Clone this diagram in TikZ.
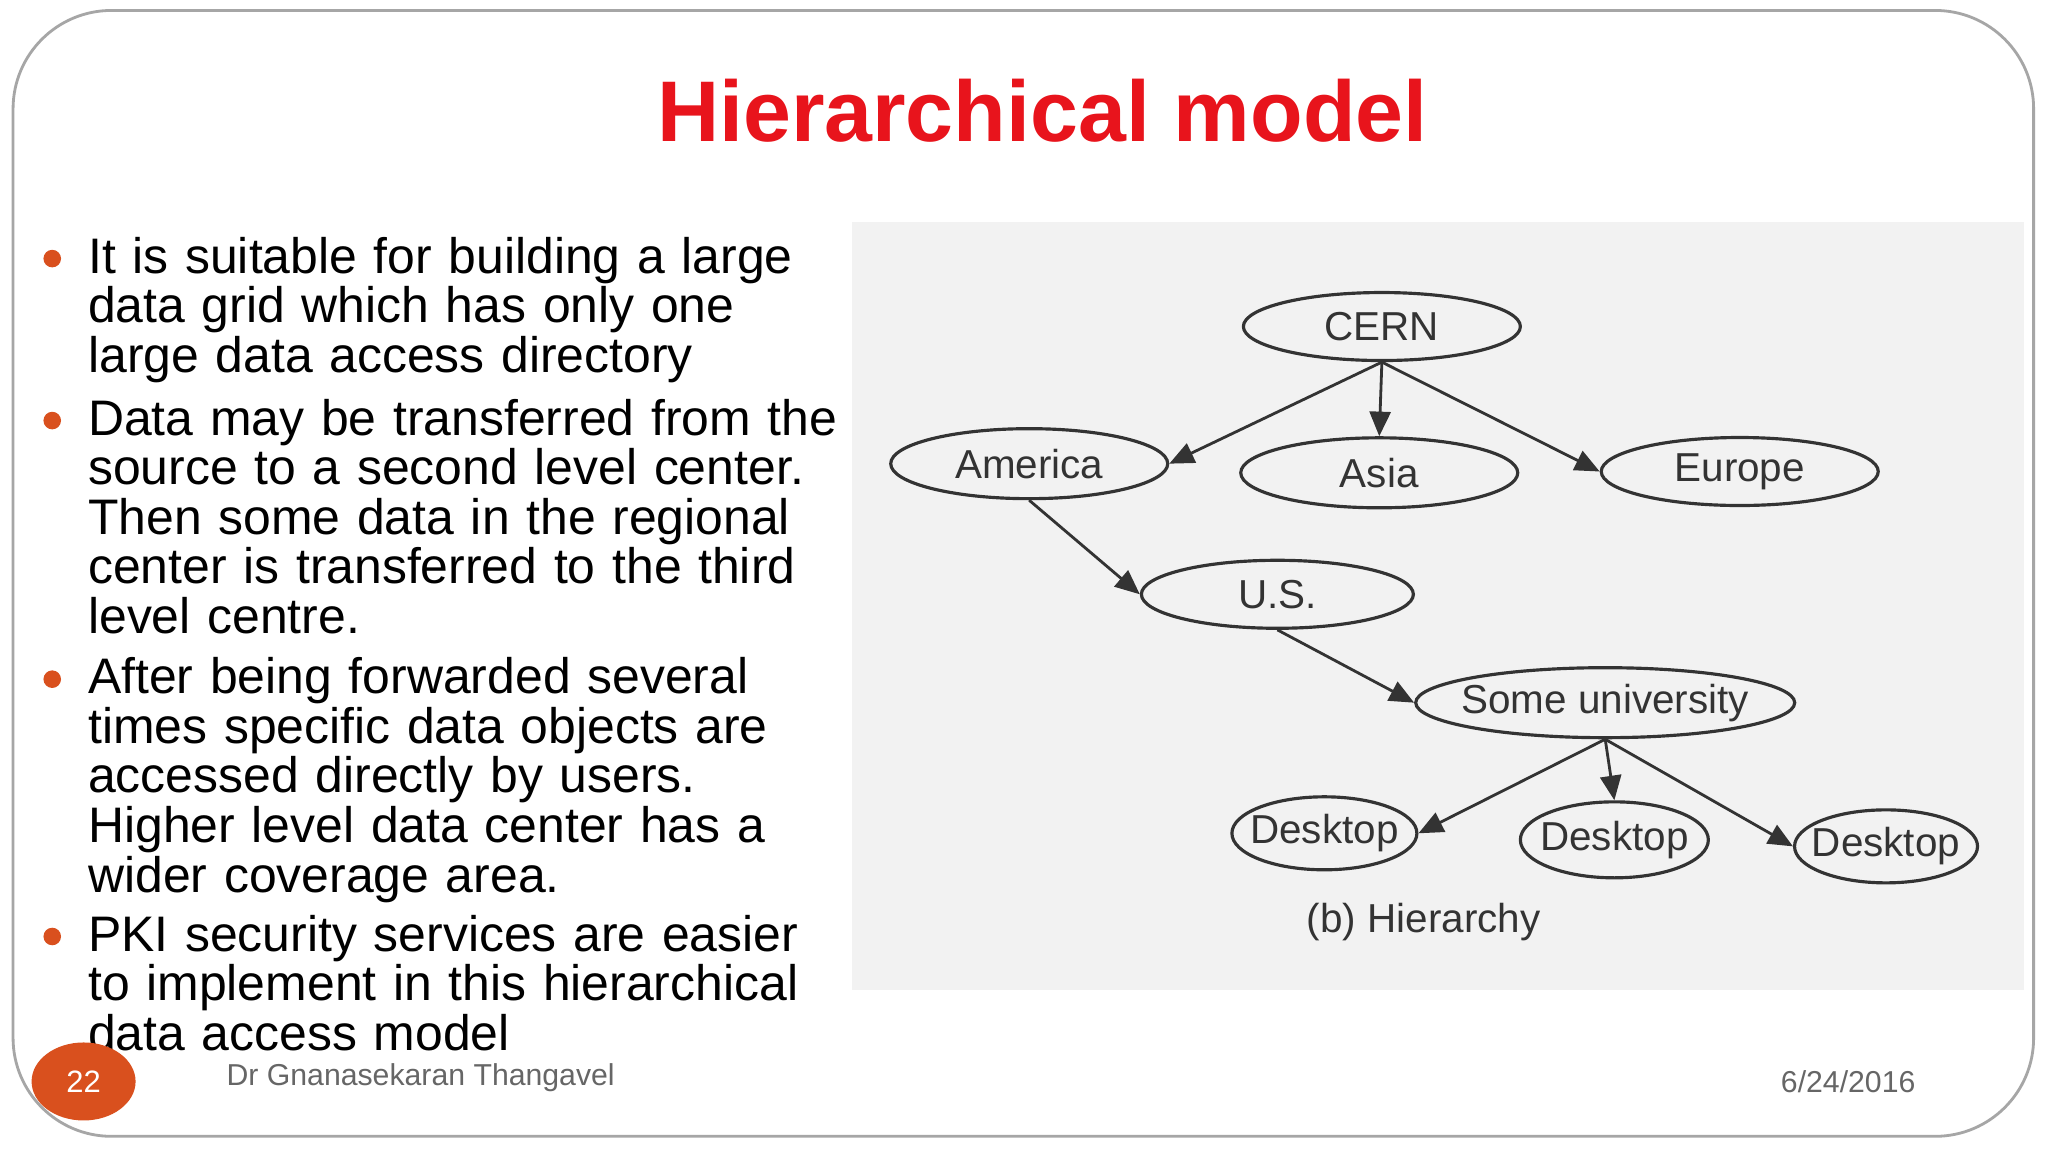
\documentclass[tikz,border=0pt]{standalone}
\usepackage{fontspec}
\setmainfont{Liberation Sans}
\usetikzlibrary{shapes.geometric,arrows.meta}
\definecolor{titlered}{HTML}{E8141C}
\definecolor{bul}{HTML}{D9501E}
\definecolor{ink}{HTML}{333333}
\begin{document}
\begin{tikzpicture}[x=0.01306cm,y=-0.01306cm,
  el/.style={ellipse,draw=ink,line width=0.9pt,inner sep=0pt,text=ink,font=\fontsize{11.5}{11.5}\selectfont},
  arr/.style={draw=ink,line width=0.8pt,-{Triangle[length=7pt,width=6pt]}},
  bt/.style={anchor=north west,align=left,text width=10cm,inner sep=0pt,font=\fontsize{14.2}{14.1}\selectfont},
  dot/.style={circle,fill=bul,inner sep=0pt,minimum size=5pt}]
\useasboundingbox (0,0) rectangle (1568,882);
\fill[white] (0,0) rectangle (1568,882);
\draw[gray!70,line width=0.8pt,rounded corners=28pt] (10,8) rectangle (1557,870);
\node[font=\fontsize{24.5}{24.5}\selectfont\bfseries,text=titlered] (title) at (798,85) {Hierarchical model};
% bullets
\node[dot] (b1) at (40,198) {};
\node[bt] (t1) at (67,181) {It is suitable for building a large\\data grid which has only one\\large data access directory};
\node[dot] (b2) at (40,322) {};
\node[bt] (t2) at (67,305) {Data may be transferred from the\\source to a second level center.\\Then some data in the regional\\center is transferred to the third\\level centre.};
\node[dot] (b3) at (40,520) {};
\node[bt] (t3) at (67,503) {After being forwarded several\\times specific data objects are\\accessed directly by users.\\Higher level data center has a\\wider coverage area.};
\node[dot] (b4) at (40,717) {};
\node[bt] (t4) at (67,700) {PKI security services are easier\\to implement in this hierarchical\\data access model};
% diagram
\fill[black!5] (652,170) rectangle (1550,758);
\node[el,minimum width=2.77cm,minimum height=0.68cm] (cern) at (1058,250) {CERN};
\node[el,minimum width=2.77cm,minimum height=0.70cm] (am) at (788,355) {America};
\node[el,minimum width=2.77cm,minimum height=0.70cm] (asia) at (1056,362) {Asia};
\node[el,minimum width=2.77cm,minimum height=0.68cm] (eu) at (1332,361) {Europe};
\node[el,minimum width=2.72cm,minimum height=0.68cm] (us) at (978,455) {U.S.};
\node[el,minimum width=3.79cm,minimum height=0.70cm,inner xsep=-6pt] (su) at (1229,538) {Some university};
\node[el,minimum width=1.85cm,minimum height=0.73cm,inner xsep=-5pt] (d1) at (1014,638) {Desktop};
\node[el,minimum width=1.88cm,minimum height=0.76cm,inner xsep=-5pt] (d2) at (1236,643) {Desktop};
\node[el,minimum width=1.83cm,minimum height=0.73cm,inner xsep=-5pt] (d3) at (1444,648) {Desktop};
\node[text=ink,font=\fontsize{11.5}{11.5}\selectfont] (cap) at (1090,706) {(b) Hierarchy};
\draw[arr] (cern.south) -- (am.east);
\draw[arr] (cern.south) -- (asia.north);
\draw[arr] (cern.south) -- (eu.west);
\draw[arr] (am.south) -- (us.west);
\draw[arr] (us.south) -- (su.west);
\draw[arr] (su.south) -- (d1.east);
\draw[arr] (su.south) -- (d2.north);
\draw[arr] (su.south) -- (d3.west);
% footer
\node[ellipse,fill=bul,minimum width=1.04cm,minimum height=0.78cm,text=white,font=\fontsize{8.8}{8.8}\selectfont] (pg) at (64,828) {22};
\node[anchor=west,text=black!60,font=\fontsize{8.6}{8.6}\selectfont] (auth) at (164,825) {Dr Gnanasekaran Thangavel};
\node[anchor=east,text=black!60,font=\fontsize{8.6}{8.6}\selectfont] (date) at (1476,828) {6/24/2016};
\end{tikzpicture}
\end{document}
